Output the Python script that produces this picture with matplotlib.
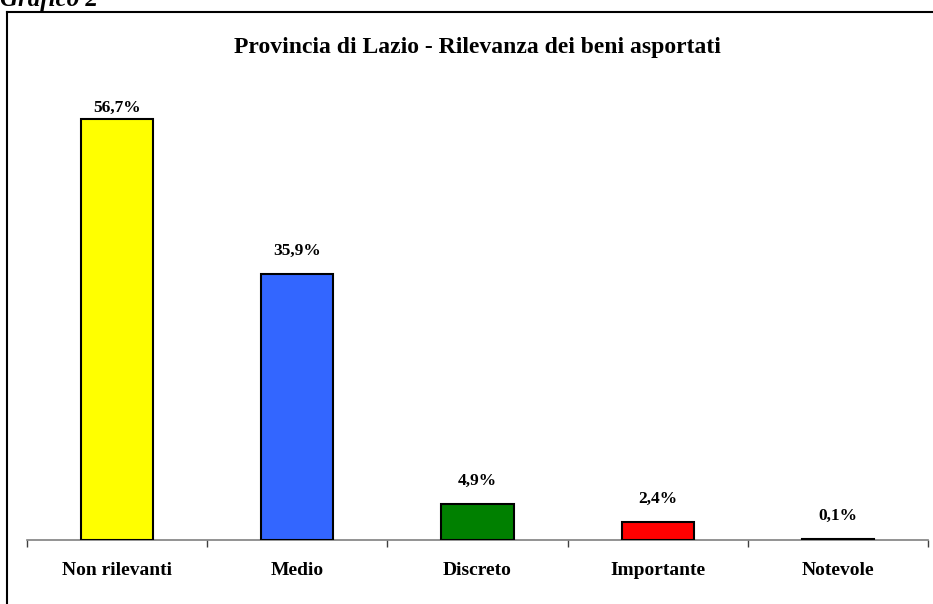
import numpy as np
import matplotlib
matplotlib.use("Agg")
import matplotlib.pyplot as plt
from matplotlib.lines import Line2D

categorie = ["Non rilevanti", "Medio", "Discreto", "Importante", "Notevole"]
percentuali = [56.7, 35.9, 4.9, 2.4, 0.1]
colori = ["#FFFF00", "#3366FF", "#008000", "#FF0000", "#000000"]

plt.rcParams['font.family'] = ['Liberation Serif', 'DejaVu Serif']
plt.rcParams['font.weight'] = 'bold'

W, H = 933, 604
fig = plt.figure(figsize=(W / 100, H / 100), dpi=100)

# plot area in pixel terms
x0, x1 = 27, 928
y_axis, y_top = 540, 95
ax = fig.add_axes([x0 / W, 1 - y_axis / H, (x1 - x0) / W, (y_axis - y_top) / H])

x = np.arange(len(categorie))
ax.bar(x, percentuali, width=0.4, color=colori, edgecolor='black', linewidth=1.5, zorder=3)

for xi, v in zip(x, percentuali):
    y_lab = min(v + 3.1, 58.3)
    ax.text(xi, y_lab, f"{v:.1f}%".replace('.', ','), ha='center', va='center',
            fontsize=12.5, fontweight='bold')

ax.set_xlim(-0.5, len(categorie) - 0.5)
ax.set_ylim(0, 60)

for s in ['left', 'right', 'top']:
    ax.spines[s].set_visible(False)
ax.spines['bottom'].set_color('#808080')
ax.spines['bottom'].set_linewidth(1.2)
ax.set_yticks([])

ax.set_xticks(x)
ax.set_xticklabels(categorie, fontsize=14, fontweight='bold')
ax.tick_params(axis='x', which='major', length=0, pad=16)
ax.set_xticks(np.arange(len(categorie) + 1) - 0.5, minor=True)
ax.tick_params(axis='x', which='minor', length=5, width=1, color='#404040', direction='out')

fig.text(0.5 * (x0 + x1) / W, 1 - 47 / H, "Provincia di Lazio - Rilevanza dei beni asportati",
         ha='center', va='center', fontsize=17, fontweight='bold')

# chart frame (only top and left edges fall inside the image)
fig.add_artist(Line2D([7 / W, 1.0], [1 - 12 / H, 1 - 12 / H], color='black', linewidth=1.5))
fig.add_artist(Line2D([7 / W, 7 / W], [0.0, 1 - 12 / H], color='black', linewidth=1.5))

fig.text(0.0, 1 - 6 / H, "Grafico 2", ha='left', va='baseline', fontsize=18,
         fontweight='bold', fontstyle='italic')

fig.savefig("out.png", dpi=100)
